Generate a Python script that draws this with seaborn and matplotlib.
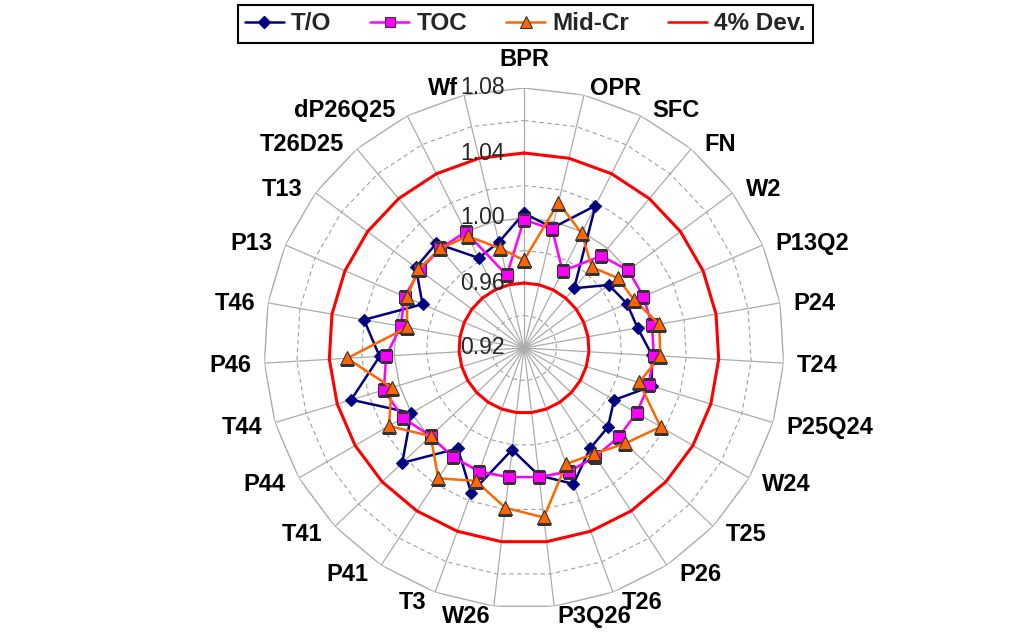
import numpy as np
import matplotlib
matplotlib.use("Agg")
import matplotlib.pyplot as plt
from matplotlib.lines import Line2D
import seaborn as sns

# ---------------- data ----------------
categories = ["BPR", "OPR", "SFC", "FN", "W2", "P13Q2", "P24", "T24", "P25Q24",
              "W24", "T25", "P26", "T26", "P3Q26", "W26", "T3", "P41", "T41",
              "P44", "T44", "P46", "T46", "P13", "T13", "T26D25", "dP26Q25", "Wf"]
t_o = [1.003, 0.996, 1.018, 0.968, 0.985, 0.989, 0.991, 0.999, 1.002,
       0.984, 0.991, 0.994, 1.009, 0.999, 0.983, 1.015, 0.994, 1.023,
       1.000, 1.031, 1.009, 1.020, 0.988, 1.003, 1.004, 0.982, 0.987]
toc = [0.999, 0.995, 0.973, 0.994, 1.000, 1.000, 1.000, 1.000, 1.000,
       1.000, 1.000, 1.000, 1.001, 1.000, 1.000, 1.001, 1.000, 0.999,
       1.006, 1.010, 1.005, 0.997, 1.000, 1.000, 1.000, 1.000, 0.966]
mid_cr = [0.974, 1.012, 0.999, 0.985, 0.992, 0.994, 1.0045, 1.004, 0.994,
          1.017, 1.0056, 0.998, 0.996, 1.025, 1.019, 1.007, 1.016, 0.999,
          1.016, 1.005, 1.029, 0.993, 0.9985, 1.001, 1.000, 0.997, 0.983]
dev_levels = [0.96, 1.04]
major_levels = [0.92, 0.96, 1.00, 1.04, 1.08]
minor_levels = [0.94, 0.98, 1.02, 1.06]
series_names = ["T/O", "TOC", "Mid-Cr", "4% Dev."]
r_min, r_max = 0.92, 1.08

# ---------------- style ----------------
sns.set_theme(style="white")
plt.rcParams['font.family'] = ['Liberation Sans', 'DejaVu Sans']

W, H = 1030, 637
fig = plt.figure(figsize=(W / 100, H / 100), dpi=100)
fig.patch.set_facecolor("white")
ax = fig.add_axes([264 / W, 29 / H, 520 / W, 520 / H], projection="polar")
ax.set_theta_zero_location("N")
ax.set_theta_direction(-1)
ax.grid(False)
ax.spines["polar"].set_visible(False)

n = len(categories)
theta = np.linspace(0, 2 * np.pi, n, endpoint=False)
theta_c = np.append(theta, 2 * np.pi)


def closed(vals):
    v = list(vals)
    return np.array(v + [v[0]])


# grid polygons
for lv in minor_levels:
    ax.plot(theta_c, np.full(n + 1, lv), color="#a0a0a0", lw=0.8,
            ls=(0, (4, 3)), zorder=1)
for lv in major_levels[1:]:
    ax.plot(theta_c, np.full(n + 1, lv), color="#ababab", lw=1.0, zorder=1)
for t in theta:
    ax.plot([t, t], [r_min, r_max], color="#ababab", lw=0.9, zorder=1)

# 4% deviation rings
for lv in dev_levels:
    ax.plot(theta_c, np.full(n + 1, lv), color="#FF0000", lw=2.2, zorder=2)

# data series
styles = [
    dict(color="#000080", marker="D", markersize=6.5, markerfacecolor="#000080",
         markeredgecolor="#000080", markeredgewidth=0.8),
    dict(color="#FF00FF", marker="s", markersize=8.5, markerfacecolor="#FF00FF",
         markeredgecolor="#333333", markeredgewidth=0.8),
    dict(color="#FF6600", marker="^", markersize=10, markerfacecolor="#FF6600",
         markeredgecolor="#333333", markeredgewidth=0.8),
]
for k, (vals, st) in enumerate(zip([t_o, toc, mid_cr], styles)):
    sns.lineplot(x=theta_c, y=closed(vals), sort=False, estimator=None,
                 linewidth=1.8, ax=ax, zorder=3 + k, **st)

ax.set_xlim(0, 2 * np.pi)
ax.set_ylim(r_min, r_max)
ax.set_xticks([])
ax.set_yticks([])
ax.set_xlabel("")
ax.set_ylabel("")

# radial tick labels
for lv in major_levels:
    ax.annotate(f"{lv:.2f}", xy=(0, lv), xytext=(-19, 0),
                textcoords="offset pixels", ha="right", va="center",
                fontsize=16.5, color="#262626", zorder=10,
                annotation_clip=False)

# category labels
cap_h = 17.0
for t, name in zip(theta, categories):
    s, c = np.sin(t), np.cos(t)
    if abs(s) < 0.01:
        ha, dx = "center", 0.0
    else:
        ha = "left" if s > 0 else "right"
        dx = np.sign(s) * 13 * min(1.0, abs(s) / 0.5)
    f = 0.5 - 0.5 * c
    dy = -f * cap_h
    if abs(s) < 0.01 and c > 0:
        dy += 22
    ax.annotate(name, xy=(t, r_max), xytext=(dx, dy), textcoords="offset pixels",
                ha=ha, va="baseline", fontsize=17, fontweight="bold",
                color="black", annotation_clip=False, zorder=10)

# legend
handles = [
    Line2D([], [], color="#000080", lw=1.8, marker="D", ms=6,
           mfc="#000080", mec="#000080"),
    Line2D([], [], color="#FF00FF", lw=1.8, marker="s", ms=7.5,
           mfc="#FF00FF", mec="#333333", mew=0.8),
    Line2D([], [], color="#FF6600", lw=1.8, marker="^", ms=8.5,
           mfc="#FF6600", mec="#333333", mew=0.8),
    Line2D([], [], color="#FF0000", lw=1.8),
]
leg = fig.legend(handles, series_names, loc="upper center",
                 bbox_to_anchor=(0.51, 0.992), ncol=4, frameon=True,
                 fancybox=False, edgecolor="black", framealpha=1,
                 prop={"weight": "bold", "size": 17.5}, handlelength=1.6,
                 columnspacing=1.6, handletextpad=0.3, borderpad=0.3,
                 borderaxespad=0)
leg.get_frame().set_linewidth(1.5)

fig.savefig("out.png", dpi=100, facecolor="white")
